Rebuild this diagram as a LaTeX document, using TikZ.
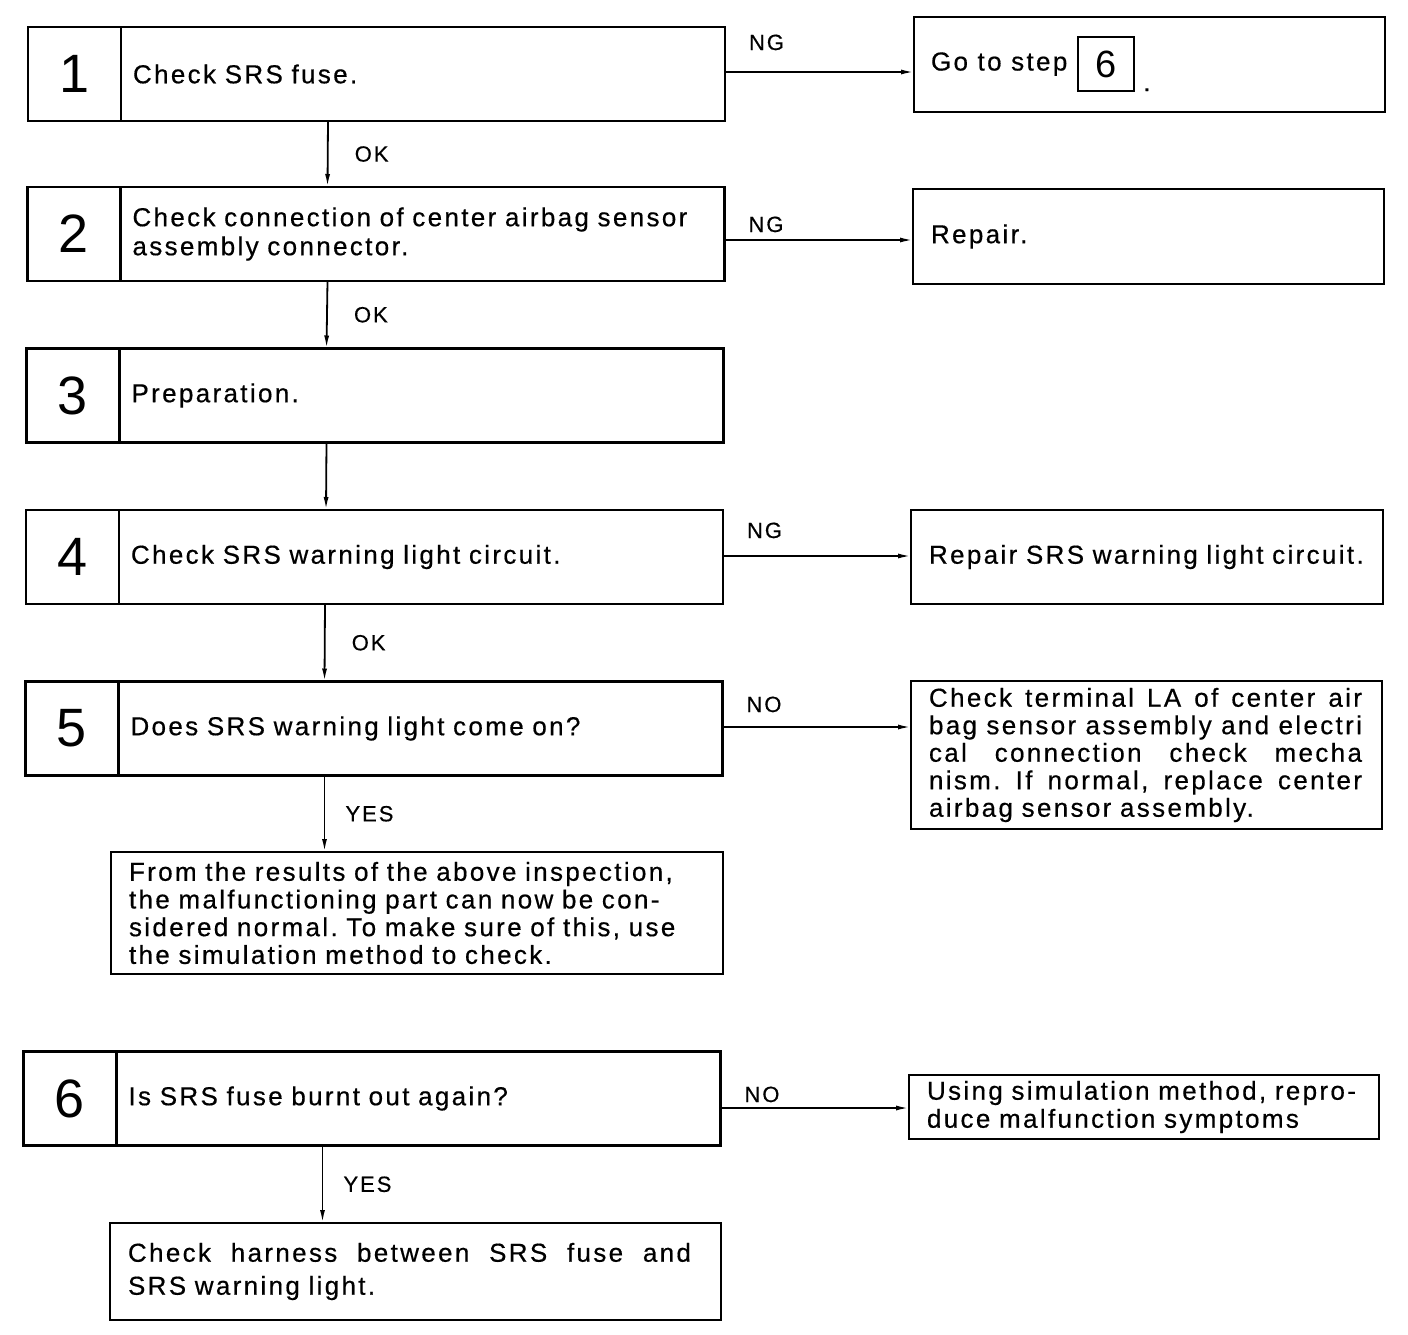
\documentclass[tikz,border=0pt]{standalone}
\usepackage{fontspec}
\setmainfont{Liberation Sans}[LetterSpace=9]
\newfontfamily\bodyfont{Liberation Sans}[LetterSpace=9, FakeBold=0.5]
\usepackage{tikz}
\usetikzlibrary{arrows.meta,positioning}

\newcommand{\fullline}[2]{\makebox[#1][s]{\spaceskip=0pt\relax #2}}

\begin{document}
\frenchspacing
\begin{tikzpicture}[
        x=1pt, y=-1pt,
        every node/.style={outer sep=0pt},
        txt/.style={font=\bodyfont\fontsize{26pt}{29pt}\selectfont},
        numcell/.style={draw, line width=2.6pt, minimum width=93pt, minimum height=94pt, inner sep=0pt,
                        font=\fontsize{54pt}{54pt}\selectfont},
        stepcell/.style={draw, line width=2.6pt, txt, text width=580pt, inner xsep=12pt, minimum height=94pt, align=left},
        outbox/.style={draw, line width=2.4pt, txt, text width=#1, inner xsep=18pt, align=left},
        gobox/.style={draw, line width=2.2pt, minimum width=56pt, minimum height=54pt, inner sep=0pt,
                      font=\fontsize{38pt}{38pt}\selectfont},
        lbl/.style={inner sep=0pt, font=\bodyfont\fontsize{22pt}{22pt}\selectfont},
        arr/.style={-{Latex[length=13pt,width=5pt]}, line width=1.8pt}
    ]
        \fill[white] (0,0) rectangle (1408,1334);
        \useasboundingbox (0,0) rectangle (1408,1334);

        % steps 1 to 5
        \node[numcell] (n1) at (74.5,74) {1};
        \node[stepcell, right=0pt of n1] (s1) {Check SRS fuse.};
        \node[numcell] (n2) at (74,234) {2};
        \node[stepcell, right=0pt of n2] (s2) {Check connection of center airbag sensor\\assembly connector.};
        \node[numcell] (n3) at (73,395.5) {3};
        \node[stepcell, right=0pt of n3] (s3) {Preparation.};
        \node[numcell] (n4) at (72.5,557) {4};
        \node[stepcell, right=0pt of n4] (s4) {Check SRS warning light circuit.};
        \node[numcell] (n5) at (72,728.5) {5};
        \node[stepcell, right=0pt of n5] (s5) {Does SRS warning light come on?};
        \node[outbox=576pt, minimum height=122pt, font=\bodyfont\fontsize{26pt}{27.7pt}\selectfont] (res5) at (417,913)
            {From the results of the above inspection,\\the malfunctioning part can now be con-\\sidered normal. To make sure of this, use\\the simulation method to check.};

        % step 6
        \node[numcell] (n6) at (70,1098.5) {6};
        \node[stepcell, right=0pt of n6] (s6) {Is SRS fuse burnt out again?};
        \node[outbox=575pt, minimum height=97pt, font=\bodyfont\fontsize{26pt}{33pt}\selectfont] (fin6) at (415.5,1271.5)
            {\fullline{563pt}{Check harness between SRS fuse and}\\SRS warning light.};

        % right column
        \node[outbox=435pt, minimum height=95pt] (r1) at (1149.5,64.5) {};
        \node[txt, anchor=base west, inner sep=0pt] (goto) at ([xshift=17pt,yshift=-6pt]r1.west) {Go to step};
        \node[gobox, right=11pt of goto] (go6) {6};
        \node[txt, anchor=base west, inner sep=0pt] (godot) at ([xshift=9pt]go6.south east) {.};
        \node[outbox=435pt, minimum height=95pt] (r2) at (1148.5,236.5) {Repair.};
        \node[outbox=436pt, minimum height=94pt] (r4) at (1147,557) {Repair SRS warning light circuit.};
        \node[outbox=435pt, minimum height=148pt, font=\bodyfont\fontsize{26pt}{27.5pt}\selectfont] (r5) at (1146.5,755)
            {\fullline{433pt}{Check terminal LA of center air}\\\fullline{433pt}{bag sensor assembly and electri}\\\fullline{433pt}{cal connection check mecha}\\\fullline{433pt}{nism. If normal, replace center}\\airbag sensor assembly.};
        \node[outbox=434pt, minimum height=64pt, font=\bodyfont\fontsize{26pt}{28pt}\selectfont] (r6) at (1144,1107)
            {Using simulation method, repro-\\duce malfunction symptoms};

        % down arrows
        \draw[arr] ([xshift=207pt]s1.south west) -- ([xshift=207pt]s2.north west) node[lbl, midway, right=27pt] {OK};
        \draw[arr] ([xshift=207pt]s2.south west) -- ([xshift=207pt]s3.north west) node[lbl, midway, right=27pt] {OK};
        \draw[arr] ([xshift=207pt]s3.south west) -- ([xshift=207pt]s4.north west);
        \draw[arr] ([xshift=206pt]s4.south west) -- ([xshift=206pt]s5.north west) node[lbl, midway, right=27pt] {OK};
        \draw[arr] ([xshift=206pt]s5.south west) coordinate (d5) -- (d5 |- res5.north) node[lbl, midway, right=21pt] {YES};
        \draw[arr] ([xshift=206pt]s6.south west) coordinate (d6) -- (d6 |- fin6.north) node[lbl, midway, right=21pt] {YES};

        % side arrows
        \draw[arr] ([yshift=2pt]s1.east) coordinate (e1) -- (e1 -| r1.west)
            node[lbl, pos=0, anchor=base west, xshift=24pt, yshift=22pt] {NG};
        \draw[arr] ([yshift=-6pt]s2.east) coordinate (e2) -- (e2 -| r2.west)
            node[lbl, pos=0, anchor=base west, xshift=24pt, yshift=8pt] {NG};
        \draw[arr] ([yshift=1pt]s4.east) coordinate (e4) -- (e4 -| r4.west)
            node[lbl, pos=0, anchor=base west, xshift=24pt, yshift=18pt] {NG};
        \draw[arr] ([yshift=1.5pt]s5.east) coordinate (e5) -- (e5 -| r5.west)
            node[lbl, pos=0, anchor=base west, xshift=24pt, yshift=15pt] {NO};
        \draw[arr] ([yshift=-9.5pt]s6.east) coordinate (e6) -- (e6 -| r6.west)
            node[lbl, pos=0, anchor=base west, xshift=24pt, yshift=6pt] {NO};
    \end{tikzpicture}
\end{document}
